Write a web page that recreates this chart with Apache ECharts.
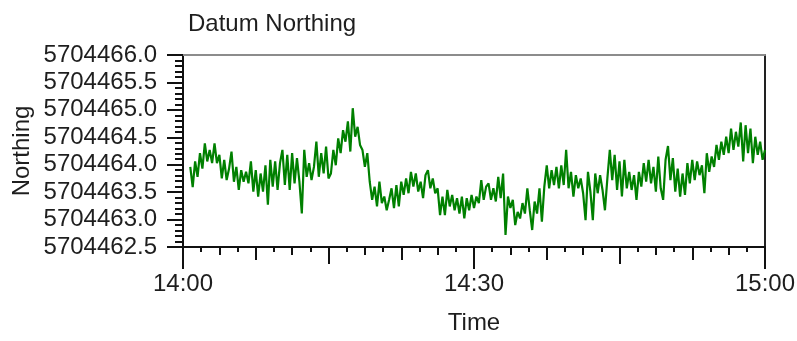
<!DOCTYPE html>
<html>
<head>
<meta charset="utf-8">
<title>Datum Northing</title>
<script src="https://cdn.jsdelivr.net/npm/echarts@6/dist/echarts.min.js"></script>
<style>
  html, body { margin: 0; padding: 0; background: #ffffff; }
  #chart { width: 797px; height: 341px; }
</style>
</head>
<body>
<div id="chart"></div>
<script>
// GPS datum northing, logged every 15 s between 14:00 and 15:00
const chartTitle = 'Datum Northing';
const xAxisName = 'Time';
const yAxisName = 'Northing';
const startHour = 14;            // clock hour of minute 0
const firstSampleMin = 0.75;     // first reading, minutes after 14:00
const sampleStepMin = 0.25;      // logging interval (15 s)

const northing = [
  5704463.96, 5704463.59, 5704464.06, 5704463.78, 5704464.21, 5704463.93, 5704464.39, 5704464.06, 5704464.27, 5704464.03,
  5704464.39, 5704464.03, 5704464.18, 5704463.75, 5704464.09, 5704463.72, 5704463.93, 5704464.24, 5704463.69, 5704463.96,
  5704463.54, 5704463.90, 5704463.69, 5704463.87, 5704463.66, 5704464.06, 5704463.51, 5704463.90, 5704463.42, 5704463.84,
  5704463.51, 5704463.99, 5704463.27, 5704464.09, 5704463.60, 5704464.06, 5704463.54, 5704464.03, 5704464.27, 5704463.63,
  5704464.18, 5704463.54, 5704464.21, 5704463.66, 5704464.12, 5704463.69, 5704463.11, 5704464.27, 5704463.78, 5704464.03,
  5704463.72, 5704463.96, 5704464.42, 5704463.78, 5704464.21, 5704463.84, 5704464.33, 5704463.75,
  5704463.84, 5704464.27, 5704463.99, 5704464.48, 5704464.21, 5704464.63, 5704464.42, 5704464.79, 5704464.24, 5704465.03,
  5704464.51, 5704464.69, 5704464.36, 5704464.27, 5704463.96, 5704464.21, 5704463.69, 5704463.36, 5704463.60, 5704463.24,
  5704463.69, 5704463.30, 5704463.42, 5704463.17, 5704463.36, 5704463.57, 5704463.21, 5704463.63, 5704463.24, 5704463.69,
  5704463.45, 5704463.75, 5704463.48, 5704463.87, 5704463.60, 5704463.84, 5704463.51, 5704463.69, 5704463.39, 5704463.81,
  5704463.90, 5704463.57, 5704463.75, 5704463.48, 5704463.57, 5704463.08, 5704463.42, 5704463.08, 5704463.54, 5704463.24,
  5704463.45, 5704463.17, 5704463.39, 5704463.11, 5704463.42, 5704463.02, 5704463.39, 5704463.17, 5704463.45, 5704463.21,
  5704463.42, 5704463.30, 5704463.72, 5704463.36, 5704463.60, 5704463.66, 5704463.36, 5704463.57, 5704463.33, 5704463.78,
  5704463.39, 5704463.84, 5704462.72, 5704463.42, 5704463.21, 5704463.36, 5704462.90, 5704463.14, 5704463.02, 5704463.30,
  5704463.11, 5704463.57, 5704463.17, 5704462.81, 5704463.33, 5704463.11, 5704463.57, 5704462.96, 5704463.60, 5704463.99,
  5704463.57, 5704463.90, 5704463.63, 5704463.96, 5704463.57, 5704463.99, 5704463.63, 5704464.27, 5704463.57, 5704463.87,
  5704463.42, 5704463.81, 5704463.57, 5704463.75, 5704463.48, 5704462.99, 5704463.87, 5704463.51, 5704462.99, 5704463.84,
  5704463.48, 5704463.81, 5704463.54, 5704463.17, 5704463.75, 5704464.27, 5704463.72, 5704464.18, 5704463.54, 5704464.06,
  5704463.42, 5704464.09, 5704463.57, 5704463.87, 5704463.54, 5704463.81, 5704463.36, 5704463.87, 5704463.60, 5704464.03,
  5704463.69, 5704464.09, 5704463.66, 5704463.96, 5704463.51, 5704464.15, 5704463.57, 5704463.36, 5704464.09, 5704464.34,
  5704463.72, 5704464.12, 5704463.51, 5704463.93, 5704463.42, 5704463.84, 5704463.45, 5704464.03, 5704463.66, 5704464.09,
  5704463.72, 5704464.06, 5704463.81, 5704463.99, 5704463.48, 5704464.21, 5704463.87, 5704464.15, 5704463.96, 5704464.36,
  5704464.09, 5704464.42, 5704464.18, 5704464.51, 5704464.21, 5704464.66, 5704464.27, 5704464.60, 5704464.33, 5704464.77,
  5704464.06, 5704464.72, 5704464.21, 5704464.66, 5704464.03, 5704464.51, 5704464.18, 5704464.42, 5704464.09, 5704464.27
];

// y-axis range and tick spacing
const yMin = 5704462.5;
const yMax = 5704466.0;
const yStep = 0.5;

// x-axis: minutes after 14:00, labelled every half hour
const xMin = 0;
const xMax = 60;
const xLabelStep = 30;
// nested tick levels below the labelled ones (interval in minutes)
const xTickLevels = [15, 7.5, 3.75, 1.875];

const FONT = '"Liberation Sans", Arial, sans-serif';
const TEXT = '#1e1e1e';

const seriesData = northing.map((v, i) => [firstSampleMin + i * sampleStepMin, v]);

function clockLabel(m) {
  const h = startHour + Math.floor(m / 60);
  const mm = Math.round(m % 60);
  return h + ':' + (mm < 10 ? '0' : '') + mm;
}

const tickLengths = [17, 13, 8, 5];

const xAxes = [
  {
    type: 'value', gridIndex: 0, position: 'bottom',
    min: xMin, max: xMax, interval: xLabelStep,
    axisLine: { show: true, onZero: false, lineStyle: { color: '#111', width: 2 } },
    axisTick: { show: true, length: 22, lineStyle: { color: '#111', width: 2 } },
    axisLabel: { show: true, margin: 25, formatter: clockLabel, color: TEXT, fontSize: 24, fontFamily: FONT },
    splitLine: { show: false }
  }
].concat(xTickLevels.map((iv, i) => ({
  type: 'value', gridIndex: 0, position: 'bottom',
  min: xMin, max: xMax, interval: iv,
  axisLine: { show: false, onZero: false },
  axisTick: { show: true, length: tickLengths[i], lineStyle: { color: '#111', width: 2 } },
  axisLabel: { show: false },
  splitLine: { show: false }
}))).concat([{
  // top frame edge
  type: 'value', gridIndex: 0, position: 'top',
  min: xMin, max: xMax,
  axisLine: { show: true, onZero: false, lineStyle: { color: '#8c8c8c', width: 2 } },
  axisTick: { show: false }, axisLabel: { show: false }, splitLine: { show: false }
}]);

const yAxes = [
  {
    type: 'value', gridIndex: 0, position: 'left',
    min: yMin, max: yMax, interval: yStep,
    axisLine: { show: true, onZero: false, lineStyle: { color: '#111', width: 2 } },
    axisTick: { show: true, length: 16, lineStyle: { color: '#111', width: 2 } },
    minorTick: { show: true, splitNumber: 5, length: 8, lineStyle: { color: '#111', width: 2 } },
    axisLabel: { show: true, margin: 26, formatter: v => v.toFixed(1), color: TEXT, fontSize: 24, fontFamily: FONT },
    splitLine: { show: false },
    minorSplitLine: { show: false }
  },
  {
    // right frame edge
    type: 'value', gridIndex: 0, position: 'right',
    min: yMin, max: yMax,
    axisLine: { show: true, onZero: false, lineStyle: { color: '#222', width: 2 } },
    axisTick: { show: false }, axisLabel: { show: false }, splitLine: { show: false }
  }
];

const chart = echarts.init(document.getElementById('chart'), null, { renderer: 'canvas' });
chart.setOption({
  animation: false,
  backgroundColor: '#ffffff',
  title: {
    text: chartTitle, left: 183, top: 7,
    textStyle: { color: TEXT, fontSize: 24, fontWeight: 'normal', fontFamily: FONT }
  },
  grid: { left: 183, top: 55, width: 582, height: 192, containLabel: false, outerBoundsMode: 'none' },
  xAxis: xAxes,
  yAxis: yAxes,
  graphic: [
    {
      type: 'text', x: 22, y: 151, rotation: Math.PI / 2,
      style: { text: yAxisName, fill: TEXT, fontSize: 24, fontFamily: FONT, align: 'center', verticalAlign: 'middle' }
    },
    {
      type: 'text', x: 474, y: 323,
      style: { text: xAxisName, fill: TEXT, fontSize: 24, fontFamily: FONT, align: 'center', verticalAlign: 'middle' }
    }
  ],
  series: [{
    type: 'line',
    xAxisIndex: 0, yAxisIndex: 0,
    data: seriesData,
    showSymbol: false,
    lineStyle: { color: '#008000', width: 2.2 },
    itemStyle: { color: '#008000' }
  }]
});
</script>
</body>
</html>
